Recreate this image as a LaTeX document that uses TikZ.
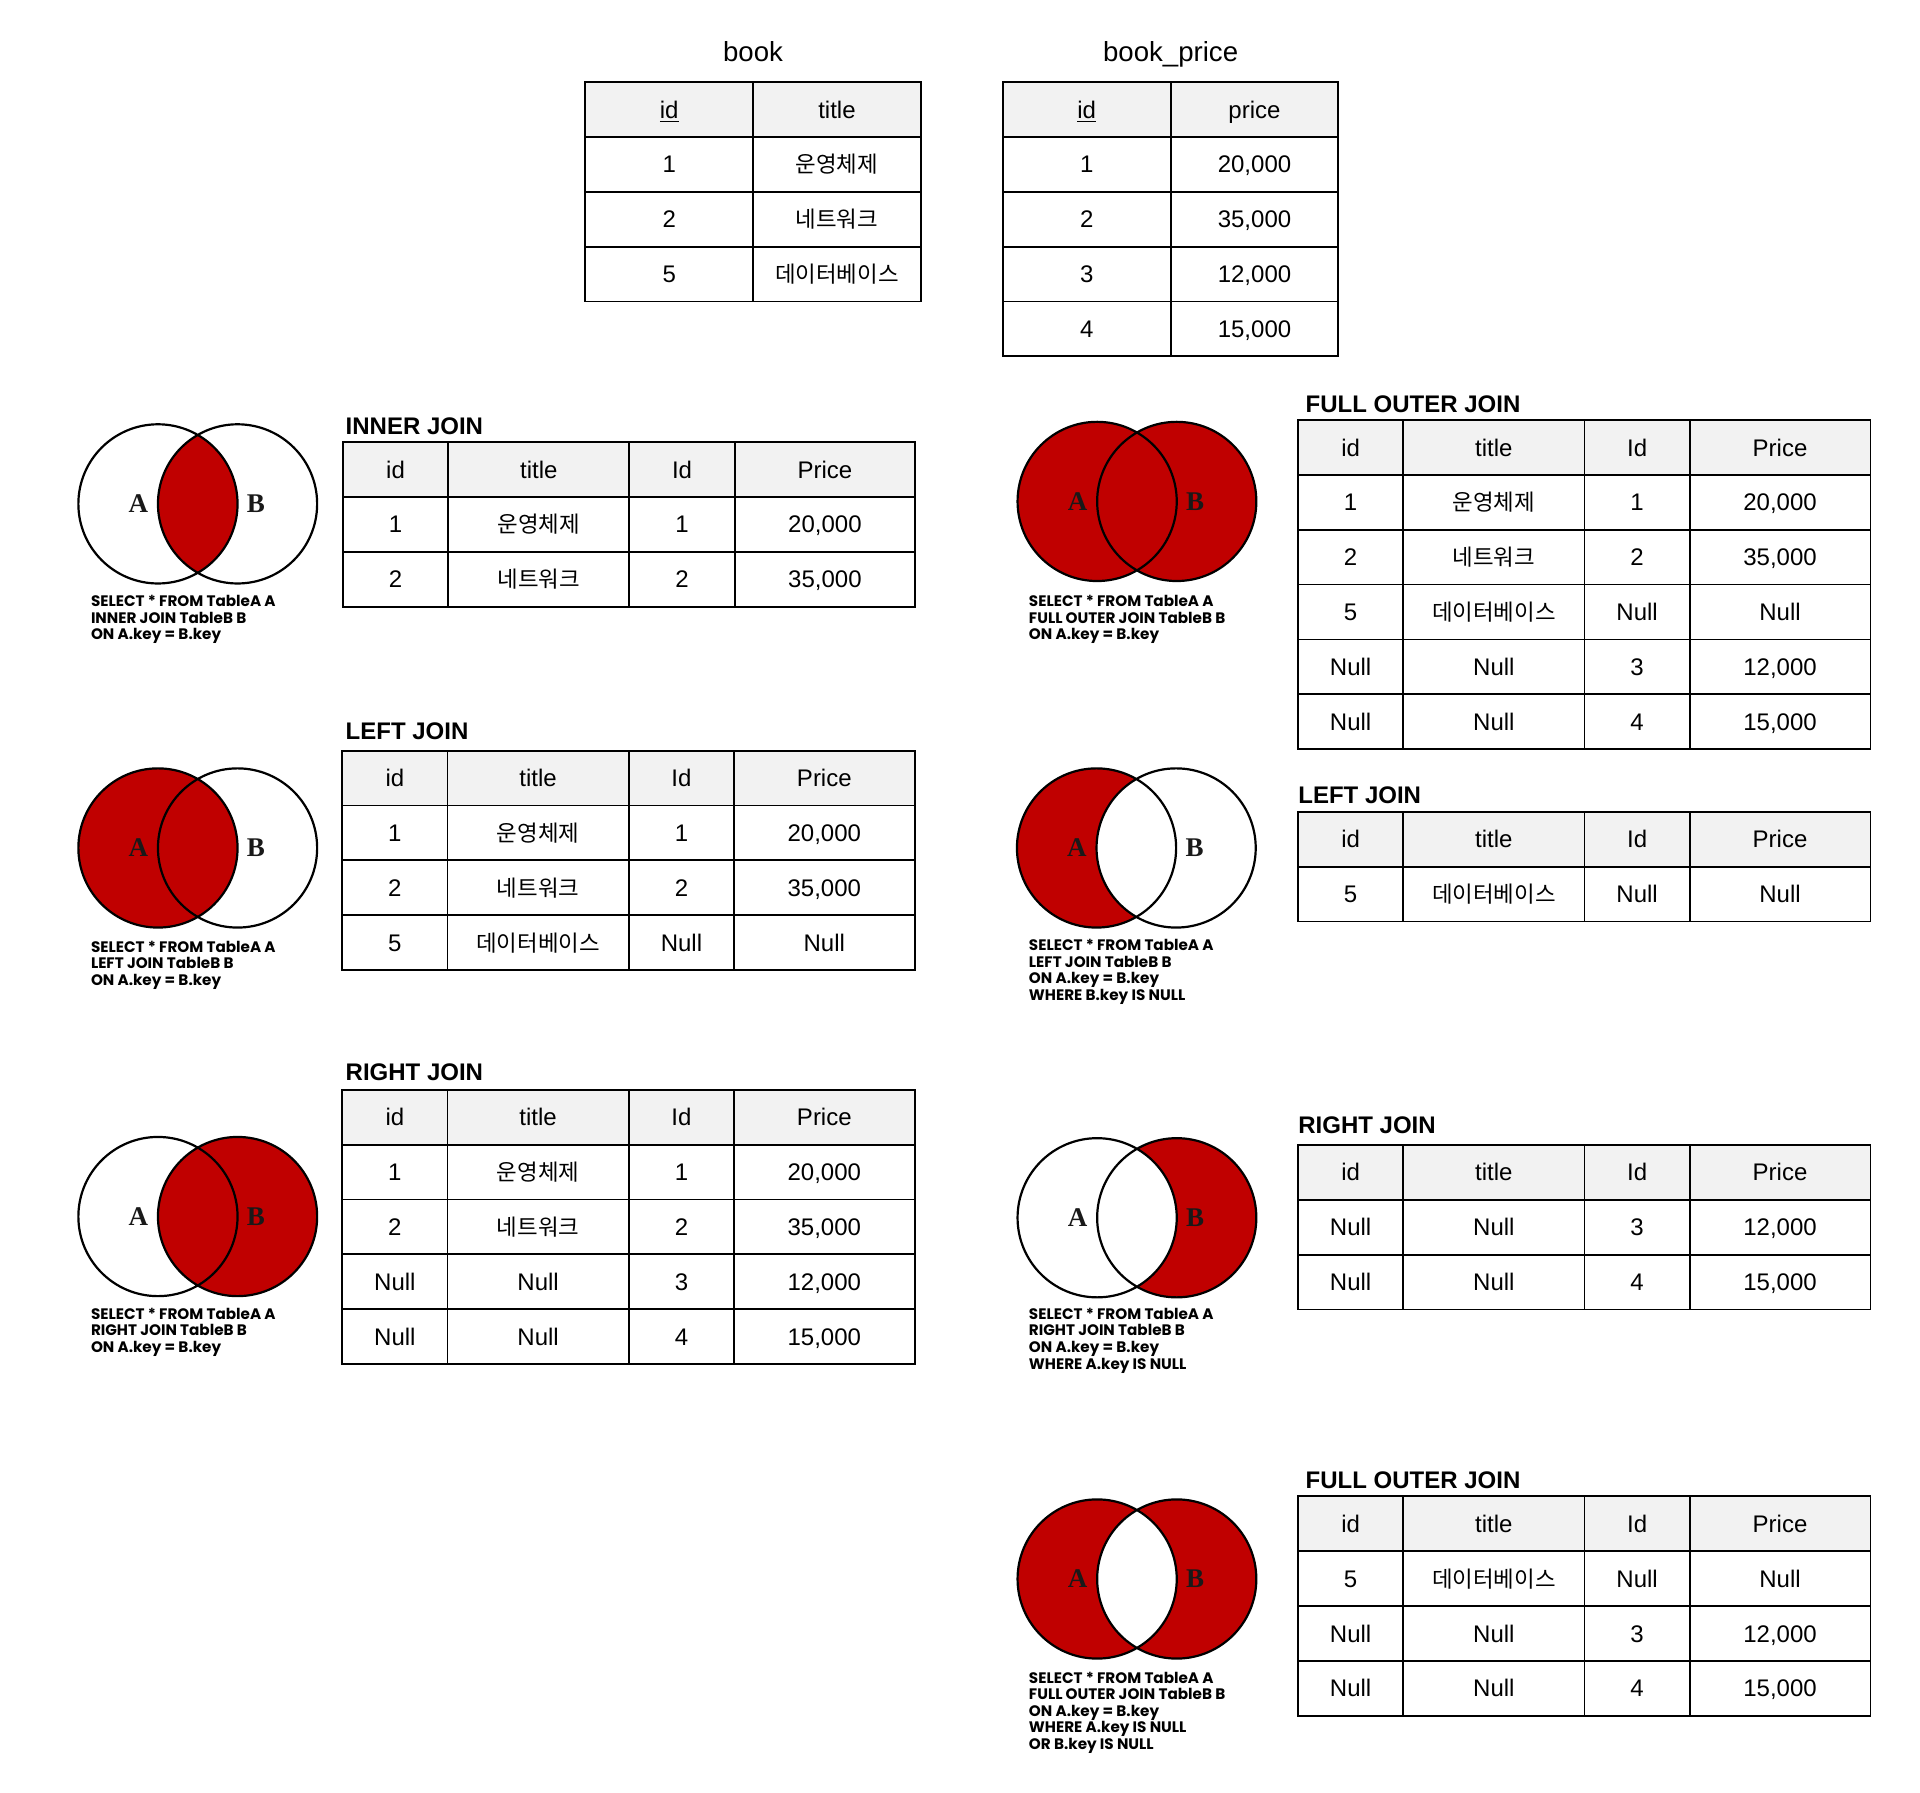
\documentclass[tikz,border=0pt]{standalone}
\usepackage{fontspec}
\setmainfont{Liberation Sans}
\newfontfamily\kr{Noto Sans CJK KR}
\newfontfamily\sqlf{Poppins}
\newfontfamily\vennf{Liberation Serif}
\definecolor{jred}{RGB}{192,0,0}
\definecolor{hdr}{RGB}{242,242,242}
\newcommand\K[1]{{\kr\fontsize{11.2}{12}\selectfont #1}}
\tikzset{
  cell/.style={inner sep=0pt, text height=8.6pt, text depth=0pt, font=\fontsize{12}{14}\selectfont},
  grid/.style={line width=0.9pt, black},
  vline/.style={line width=1.1pt, black},
  vlab/.style={inner sep=0pt, font=\vennf\bfseries\fontsize{13.5}{15}\selectfont, text=black!90},
  ttl/.style={inner sep=0pt, anchor=base west, font=\bfseries\fontsize{12}{14}\selectfont},
  sql/.style={inner sep=0pt, anchor=north west, align=left, font=\sqlf\bfseries\fontsize{7.6}{8.27}\selectfont},
  toplab/.style={inner sep=0pt, anchor=base, font=\fontsize{13.8}{16}\selectfont}
}
% join table: #1 name, #2 x0, #3 y0, #4 nrows, #5 rows
\newcommand\jtable[5]{%
  \begin{scope}[shift={(#2,#3)}]
    \fill[hdr] (0,0) rectangle (467.5,44.8);
    \node[cell] (#1-h1) at (43,22.4) {id};
    \node[cell] (#1-h2) at (160,22.4) {title};
    \node[cell] (#1-h3) at (277,22.4) {Id};
    \node[cell] (#1-h4) at (393.7,22.4) {Price};
    \foreach \a/\b/\c/\d [count=\i] in {#5} {
      \node[cell] (#1-\i-1) at (43,22.4+44.8*\i) {\a};
      \node[cell] (#1-\i-2) at (160,22.4+44.8*\i) {\b};
      \node[cell] (#1-\i-3) at (277,22.4+44.8*\i) {\c};
      \node[cell] (#1-\i-4) at (393.7,22.4+44.8*\i) {\d};
    }
    \foreach \k in {1,...,#4} \draw[grid] (0,44.8*\k) -- (467.5,44.8*\k);
    \foreach \xx in {86,234,320} \draw[grid] (\xx,0) -- (\xx,{44.8*(#4+1)});
    \draw[grid] (0,0) rectangle (467.5,{44.8*(#4+1)});
  \end{scope}}
% two-column base table: #1 name, #2 x0, #3 y0, #4 second header, #5 nrows, #6 rows
\newcommand\btable[6]{%
  \begin{scope}[shift={(#2,#3)}]
    \fill[hdr] (0,0) rectangle (274,44.8);
    \node[cell] (#1-h1) at (68.5,22.4) {\underline{id}};
    \node[cell] (#1-h2) at (205.5,22.4) {#4};
    \foreach \a/\b [count=\i] in {#6} {
      \node[cell] (#1-\i-1) at (68.5,22.4+44.8*\i) {\a};
      \node[cell] (#1-\i-2) at (205.5,22.4+44.8*\i) {\b};
    }
    \foreach \k in {1,...,#5} \draw[grid] (0,44.8*\k) -- (274,44.8*\k);
    \draw[grid] (137,0) -- (137,{44.8*(#5+1)});
    \draw[grid] (0,0) rectangle (274,{44.8*(#5+1)});
  \end{scope}}
% venn: #1 name, #2 cx of A, #3 cy, #4 fill code
\newcommand\venn[4]{%
  \coordinate (va) at (#2,#3);
  \coordinate (vb) at (#2+65,#3);
  \coordinate (#1-a) at (va);
  \coordinate (#1-b) at (vb);
  #4
  \draw[vline] (va) circle[radius=65] (vb) circle[radius=65];
  \node[vlab] (#1-A) at (#2-16,#3) {A};
  \node[vlab] (#1-B) at (#2+80,#3) {B};
}
\newcommand\FA{\fill[jred] (va) circle[radius=65];}
\newcommand\FB{\fill[jred] (vb) circle[radius=65];}
\newcommand\FAB{\begin{scope}\clip (va) circle[radius=65]; \fill[jred] (vb) circle[radius=65];\end{scope}}
\newcommand\FAonly{\begin{scope}\clip (va) circle[radius=65]; \fill[jred,even odd rule] (va) circle[radius=65] (vb) circle[radius=65];\end{scope}}
\newcommand\FBonly{\begin{scope}\clip (vb) circle[radius=65]; \fill[jred,even odd rule] (va) circle[radius=65] (vb) circle[radius=65];\end{scope}}
\newcommand\FX{\fill[jred,even odd rule] (va) circle[radius=65] (vb) circle[radius=65];}

\begin{document}
\begin{tikzpicture}[x=0.61224pt,y=-0.61224pt]
\useasboundingbox (0,0) rectangle (1568,1463.5);
\fill[white] (0,0) rectangle (1568,1463.5);

% top base tables
\node[toplab] (lab-book) at (615,50) {book};
\node[toplab] (lab-price) at (956,50) {book\_price};
\btable{book}{478}{67}{title}{3}{1/\K{운영체제}, 2/\K{네트워크}, 5/\K{데이터베이스}}
\btable{bprice}{819}{67}{price}{4}{1/20{,}000, 2/35{,}000, 3/12{,}000, 4/15{,}000}

% ---------- left column ----------
\venn{v1}{129}{411.5}{\FAB}
\node[sql] (sql1) at (74,486) {SELECT * FROM TableA A\\INNER JOIN TableB B\\ON A.key = B.key};
\node[ttl] (t1) at (282,355) {INNER JOIN};
\jtable{inner}{280}{361}{2}{1/\K{운영체제}/1/20{,}000, 2/\K{네트워크}/2/35{,}000}

\venn{v2}{129}{692.5}{\FA}
\node[sql] (sql2) at (74,768) {SELECT * FROM TableA A\\LEFT JOIN TableB B\\ON A.key = B.key};
\node[ttl] (t2) at (282,604) {LEFT JOIN};
\jtable{leftj}{279.5}{613}{3}{1/\K{운영체제}/1/20{,}000, 2/\K{네트워크}/2/35{,}000, 5/\K{데이터베이스}/Null/Null}

\venn{v3}{129}{993.5}{\FB}
\node[sql] (sql3) at (74,1068) {SELECT * FROM TableA A\\RIGHT JOIN TableB B\\ON A.key = B.key};
\node[ttl] (t3) at (282,882) {RIGHT JOIN};
\jtable{rightj}{279.5}{890}{4}{1/\K{운영체제}/1/20{,}000, 2/\K{네트워크}/2/35{,}000, Null/Null/3/12{,}000, Null/Null/4/15{,}000}

% ---------- right column ----------
\venn{v4}{896}{409.5}{\FA\FB}
\node[sql] (sql4) at (840,486) {SELECT * FROM TableA A\\FULL OUTER JOIN TableB B\\ON A.key = B.key};
\node[ttl] (t4) at (1066,337) {FULL OUTER JOIN};
\jtable{full}{1060}{343}{5}{1/\K{운영체제}/1/20{,}000, 2/\K{네트워크}/2/35{,}000, 5/\K{데이터베이스}/Null/Null, Null/Null/3/12{,}000, Null/Null/4/15{,}000}

\venn{v5}{895.5}{692.5}{\FAonly}
\node[sql] (sql5) at (840,767) {SELECT * FROM TableA A\\LEFT JOIN TableB B\\ON A.key = B.key\\WHERE B.key IS NULL};
\node[ttl] (t5) at (1060,656) {LEFT JOIN};
\jtable{lonly}{1060}{663}{1}{5/\K{데이터베이스}/Null/Null}

\venn{v6}{896}{994.5}{\FBonly}
\node[sql] (sql6) at (840,1068) {SELECT * FROM TableA A\\RIGHT JOIN TableB B\\ON A.key = B.key\\WHERE A.key IS NULL};
\node[ttl] (t6) at (1060,926) {RIGHT JOIN};
\jtable{ronly}{1060}{935}{2}{Null/Null/3/12{,}000, Null/Null/4/15{,}000}

\venn{v7}{896}{1289.5}{\FX}
\node[sql] (sql7) at (840,1365) {SELECT * FROM TableA A\\FULL OUTER JOIN TableB B\\ON A.key = B.key\\WHERE A.key IS NULL\\OR B.key IS NULL};
\node[ttl] (t7) at (1066,1216) {FULL OUTER JOIN};
\jtable{xor}{1060}{1222}{3}{5/\K{데이터베이스}/Null/Null, Null/Null/3/12{,}000, Null/Null/4/15{,}000}
\end{tikzpicture}
\end{document}
